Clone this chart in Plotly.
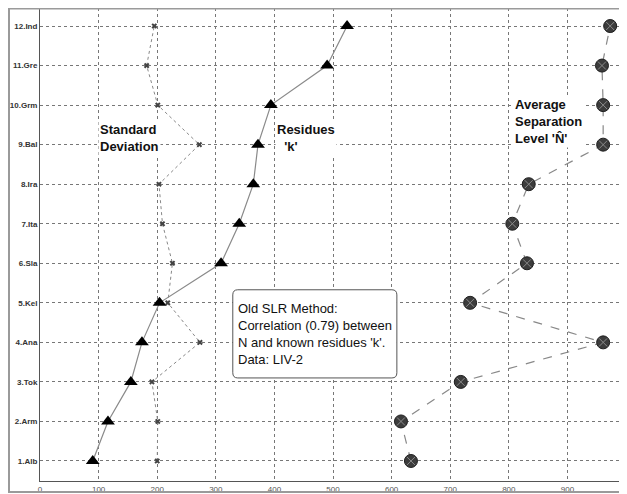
import plotly.graph_objects as go

categories = ["1.Alb", "2.Arm", "3.Tok", "4.Ana", "5.Kel", "6.Sla",
              "7.Ita", "8.Ira", "9.Bal", "10.Grm", "11.Gre", "12.Ind"]
positions = list(range(1, 13))
residues_k = [90, 116, 155, 174, 204, 309, 340, 364, 372, 394, 490, 524]
std_dev = [200, 201, 191, 273, 218, 226, 209, 203, 272, 201, 182, 195]
avg_sep_N = [633, 616, 718, 961, 734, 831, 806, 834, 961, 961, 959, 973]
x_ticks = [0, 100, 200, 300, 400, 500, 600, 700, 800, 900, 1000]

fig = go.Figure()

fig.add_trace(go.Scatter(
    x=std_dev, y=positions, mode="lines+markers",
    line=dict(color="#888888", width=1, dash="dot"),
    marker=dict(symbol="x", size=5, color="#444444"),
    showlegend=False))

fig.add_trace(go.Scatter(
    x=residues_k, y=positions, mode="lines+markers",
    line=dict(color="#8a8a8a", width=1.2),
    marker=dict(symbol="triangle-up", size=12, color="#000000"),
    showlegend=False))

fig.add_trace(go.Scatter(
    x=avg_sep_N, y=positions, mode="lines+markers",
    line=dict(color="#888888", width=1.2, dash="dash"),
    marker=dict(symbol="circle", size=13, color="#3c3c3c",
                line=dict(color="#1e1e1e", width=1)),
    showlegend=False))

fig.add_trace(go.Scatter(
    x=avg_sep_N, y=positions, mode="markers",
    marker=dict(symbol="x-thin", size=8, color="#8a8a8a",
                line=dict(color="#8a8a8a", width=1)),
    showlegend=False, hoverinfo="skip"))

lbl_font = dict(family="Liberation Sans, Arial", size=13, color="#111111")

fig.add_annotation(x=99, y=9.18, xref="x", yref="y", xanchor="left", yanchor="middle",
                   text="<b>Standard<br>Deviation</b>", showarrow=False, align="left",
                   font=lbl_font, bgcolor="white", borderpad=1)
fig.add_annotation(x=401, y=9.18, xref="x", yref="y", xanchor="left", yanchor="middle",
                   text="<b>Residues<br>&nbsp;&nbsp;'k'</b>", showarrow=False, align="left",
                   font=lbl_font, bgcolor="white", borderpad=1)
fig.add_annotation(x=807, y=9.58, xref="x", yref="y", xanchor="left", yanchor="middle",
                   text="<b>Average<br>Separation<br>Level 'N̂'</b>", showarrow=False, align="left",
                   font=lbl_font, bgcolor="white", borderpad=1)

# rounded box for note
bx0, bx1, by0, by1 = 329, 609, 3.10, 5.33
rx, ry = 8.5, 0.13
path = (f"M {bx0+rx},{by1} L {bx1-rx},{by1} Q {bx1},{by1} {bx1},{by1-ry} "
        f"L {bx1},{by0+ry} Q {bx1},{by0} {bx1-rx},{by0} "
        f"L {bx0+rx},{by0} Q {bx0},{by0} {bx0},{by0+ry} "
        f"L {bx0},{by1-ry} Q {bx0},{by1} {bx0+rx},{by1} Z")
fig.add_shape(type="path", path=path, xref="x", yref="y",
              line=dict(color="#555555", width=1), fillcolor="white", layer="above")
fig.add_annotation(x=bx0 + 5, y=(by0 + by1) / 2, xref="x", yref="y",
                   xanchor="left", yanchor="middle",
                   text="Old SLR Method:<br>Correlation (0.79) between<br>N and known residues 'k'.<br>Data: LIV-2",
                   showarrow=False, align="left",
                   font=dict(family="Liberation Sans, Arial", size=13, color="#111111"))

# outer frame
W, H = 619, 486
L, R, T, B = 32, 1, 0, 13
pw, ph = W - L - R, H - T - B
fx0 = (1 - L) / pw
fx1 = (617 - L) / pw
fy0 = (H - B - 484) / ph
fy1 = (H - B - 0.5) / ph
fig.add_shape(type="rect", xref="paper", yref="paper",
              x0=fx0, x1=fx1, y0=fy0, y1=fy1,
              line=dict(color="#9a9a9a", width=2), layer="above")

fig.update_xaxes(range=[0, 1000], tickvals=x_ticks, ticktext=[str(v) for v in x_ticks],
                 showgrid=True, gridcolor="#777777", griddash="dot", gridwidth=1,
                 showline=True, linecolor="#555555", linewidth=1, zeroline=False,
                 ticks="", tickfont=dict(family="Liberation Sans, Arial", size=8, color="#555555"),
                 automargin=False)
fig.update_yaxes(range=[0.494, 12.456], tickvals=positions,
                 ticktext=[f"<b>{c}</b>" for c in categories],
                 showgrid=True, gridcolor="#777777", griddash="dot", gridwidth=1,
                 showline=True, linecolor="#555555", linewidth=1, zeroline=False,
                 ticks="",
                 tickfont=dict(family="Liberation Sans, Arial", size=8, color="#333333"),
                 automargin=False)

fig.update_layout(width=W, height=H,
                  margin=dict(l=L, r=R, t=T, b=B),
                  paper_bgcolor="white", plot_bgcolor="white",
                  showlegend=False)

fig.write_html("out.html")
